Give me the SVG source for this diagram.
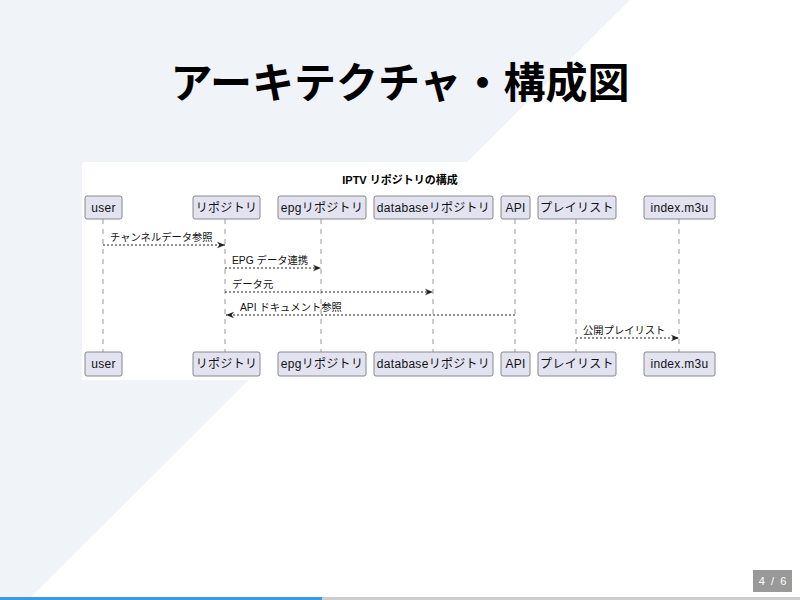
<svg xmlns="http://www.w3.org/2000/svg" width="800" height="600" viewBox="0 0 800 600">
<defs>
<style>
.p rect{fill:#e2e2f0;stroke:#888;stroke-width:1}
.p text{font-family:"Liberation Sans","Noto Sans CJK JP",sans-serif;font-size:12px;fill:#111;text-anchor:middle;letter-spacing:0.3px}
.ll{stroke:#999;stroke-dasharray:5,5;stroke-width:1}
.m{stroke:#222;stroke-dasharray:2,2;stroke-width:1;fill:none}
.ml{font-family:"Liberation Sans","Noto Sans CJK JP",sans-serif;font-size:10.3px;fill:#111}
</style>
<marker id="a" viewBox="0 0 10 10" refX="10" refY="5" markerWidth="10" markerHeight="8" orient="auto-start-reverse" markerUnits="userSpaceOnUse"><path d="M0,1 L10,5 L0,9 L3,5 Z" fill="#222"/></marker>
</defs>
<rect width="800" height="600" fill="#fff"/>
<polygon points="0,0 630,0 28,600 0,600" fill="#f0f3f7"/>
<text x="400" y="98" text-anchor="middle" font-family="Liberation Sans,'Noto Sans CJK JP',sans-serif" font-size="42" font-weight="bold" fill="#000">アーキテクチャ・構成図</text>
<rect x="82" y="162" width="634" height="218" fill="#fff"/>
<text x="400" y="184" text-anchor="middle" font-family="Liberation Sans,'Noto Sans CJK JP',sans-serif" font-size="11" font-weight="bold">IPTV リポジトリの構成</text>
<g id="lifelines">
<line class="ll" x1="103" y1="219" x2="103" y2="352"/>
<line class="ll" x1="225" y1="219" x2="225" y2="352"/>
<line class="ll" x1="321" y1="219" x2="321" y2="352"/>
<line class="ll" x1="433" y1="219" x2="433" y2="352"/>
<line class="ll" x1="515" y1="219" x2="515" y2="352"/>
<line class="ll" x1="576" y1="219" x2="576" y2="352"/>
<line class="ll" x1="679" y1="219" x2="679" y2="352"/>
</g>
<g id="user" class="p"><rect x="85" y="196" width="37" height="23" rx="2"/><text x="103.5" y="212">user</text><rect x="85" y="352" width="37" height="24" rx="2"/><text x="103.5" y="368">user</text></g>
<g id="repo" class="p"><rect x="193" y="196" width="67" height="23" rx="2"/><text x="226.5" y="212">リポジトリ</text><rect x="193" y="352" width="67" height="24" rx="2"/><text x="226.5" y="368">リポジトリ</text></g>
<g id="epg" class="p"><rect x="278" y="196" width="88" height="23" rx="2"/><text x="322" y="212">epgリポジトリ</text><rect x="278" y="352" width="88" height="24" rx="2"/><text x="322" y="368">epgリポジトリ</text></g>
<g id="db" class="p"><rect x="374" y="196" width="119" height="23" rx="2"/><text x="433.5" y="212">databaseリポジトリ</text><rect x="374" y="352" width="119" height="24" rx="2"/><text x="433.5" y="368">databaseリポジトリ</text></g>
<g id="api" class="p"><rect x="501" y="196" width="29" height="23" rx="2"/><text x="515.5" y="212">API</text><rect x="501" y="352" width="29" height="24" rx="2"/><text x="515.5" y="368">API</text></g>
<g id="playlist" class="p"><rect x="538" y="196" width="78" height="23" rx="2"/><text x="577" y="212">プレイリスト</text><rect x="538" y="352" width="78" height="24" rx="2"/><text x="577" y="368">プレイリスト</text></g>
<g id="index" class="p"><rect x="644" y="196" width="71" height="23" rx="2"/><text x="679.5" y="212">index.m3u</text><rect x="644" y="352" width="71" height="24" rx="2"/><text x="679.5" y="368">index.m3u</text></g>
<g id="connectors">
<line class="m" x1="103" y1="245" x2="225" y2="245" marker-end="url(#a)"/>
<text class="ml" x="110" y="241">チャンネルデータ参照</text>
<line class="m" x1="225" y1="268" x2="321" y2="268" marker-end="url(#a)"/>
<text class="ml" x="232" y="264">EPG データ連携</text>
<line class="m" x1="225" y1="292" x2="433" y2="292" marker-end="url(#a)"/>
<text class="ml" x="232" y="288">データ元</text>
<line class="m" x1="515" y1="315" x2="226" y2="315" marker-end="url(#a)"/>
<text class="ml" x="240" y="311">API ドキュメント参照</text>
<line class="m" x1="576" y1="338" x2="679" y2="338" marker-end="url(#a)"/>
<text class="ml" x="583" y="334">公開プレイリスト</text>
</g>
<rect x="753" y="570" width="39" height="22" fill="#999"/>
<text x="772.5" y="585" text-anchor="middle" font-family="Liberation Sans,sans-serif" font-size="11" fill="#fff" xml:space="preserve">4  /  6</text>
<rect x="0" y="597" width="800" height="3" fill="#ccc"/>
<rect x="0" y="597" width="322" height="3" fill="#3b9be0"/>
</svg>
